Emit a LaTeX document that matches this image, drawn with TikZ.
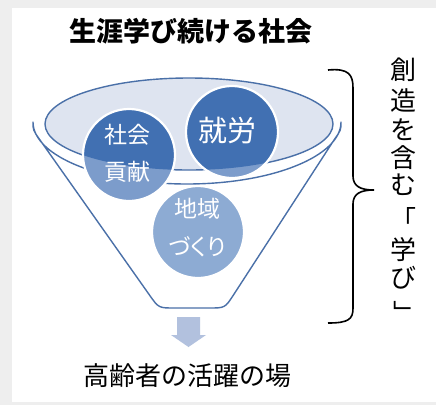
\documentclass[tikz,border=0pt]{standalone}
\usepackage{fontspec}
\newfontfamily\jp{Noto Sans CJK JP}
\newfontfamily\jpp{Noto Sans CJK JP}[RawFeature=+palt]
\definecolor{bggray}{HTML}{EEEEEE}
\definecolor{rimblue}{HTML}{4A70A8}
\definecolor{innerfill}{HTML}{DEE4F0}
\definecolor{darkc}{HTML}{4170B2}
\definecolor{lightc}{HTML}{7C9CCB}
\definecolor{regionc}{HTML}{8DABD3}
\definecolor{arrowc}{HTML}{B2C1DE}
\begin{document}
\begin{tikzpicture}[x=1pt,y=-1pt,
  rim/.style={draw=rimblue,line width=1.4pt},
  bubble/.style={draw=white,line width=2.2pt},
  btext/.style={text=white,inner sep=0pt,align=center},
  vt/.style={inner sep=0pt,font=\jp\fontsize{26}{26}\selectfont}]
\useasboundingbox (0,0) rectangle (436,405);
\fill[bggray] (0,0) rectangle (436,405);
\fill[white] (12,7.5) rectangle (436,402);
% title
\node[inner sep=0pt,font=\jp\bfseries\fontsize{27}{27}\selectfont] (title) at (191,31) {生涯学び続ける社会};
% funnel outline
\path[fill=white,rim,line join=round] (33,122) arc[start angle=180,end angle=0,x radius=154,y radius=62]
  .. controls (341,130) .. (334,140)
  -- (233.7,294.6) .. controls (225,308) .. (209,308) -- (174.6,308) .. controls (158.6,308) .. (149.4,294.9)
  -- (40,140) .. controls (33,130) .. (33,122) -- cycle;
% inner ellipse
\path[fill=innerfill,rim] (189,124) ellipse[x radius=144,y radius=46];
% bubbles
\coordinate (cs) at (129,155);
\coordinate (cw) at (232,132);
\coordinate (cr) at (198,232);
\fill[lightc] (cs) circle[radius=46];
\fill[lightc] (cw) circle[radius=46];
\begin{scope}
\clip (189,124) ellipse[x radius=144,y radius=46];
\fill[darkc] (cs) circle[radius=46];
\fill[darkc] (cw) circle[radius=46];
\end{scope}
\draw[bubble] (cs) circle[radius=46];
\draw[bubble] (cw) circle[radius=46];
\fill[regionc,bubble] (cr) circle[radius=46];
\node[btext,font=\jp\fontsize{23}{23}\selectfont] (s1) at (127,135) {社会};
\node[btext,font=\jp\fontsize{23}{23}\selectfont] (s2) at (127,172) {貢献};
\node[btext,font=\jp\fontsize{29}{29}\selectfont] (w1) at (227.5,131) {就労};
\node[btext,font=\jp\fontsize{23}{23}\selectfont] (r1) at (197,209) {地域};
\node[btext,font=\jpp\fontsize{23}{23}\selectfont] (r2) at (197,247) {づくり};
% arrow
\fill[arrowc] (177,317) -- (200,317) -- (200,335) -- (206,335) -- (188.5,347) -- (171,335) -- (177,335) -- cycle;
\node[inner sep=0pt,font=\jp\fontsize{26}{26}\selectfont] (place) at (187,376) {高齢者の活躍の場};
% brace
\draw[line width=1.6pt] (328,70) .. controls (349,68) and (353,75) .. (353,88) -- (353,176) .. controls (353,186) and (360,190) .. (374,190) .. controls (360,190) and (353,194) .. (353,204) -- (353,308) .. controls (353,319) and (349,323) .. (328,323);
% vertical text
\node[vt] (v1) at (403,70) {創};
\node[vt] (v2) at (403,101) {造};
\node[vt] (v3) at (403,130) {を};
\node[vt] (v4) at (403,158) {含};
\node[vt] (v5) at (403,185) {む};
\node[vt] (v6) at (403,218) {「};
\node[vt] (v7) at (403,250) {学};
\node[vt] (v8) at (403,278) {び};
\node[vt,rotate=-90] (v9) at (403,313) {」};
\end{tikzpicture}
\end{document}
